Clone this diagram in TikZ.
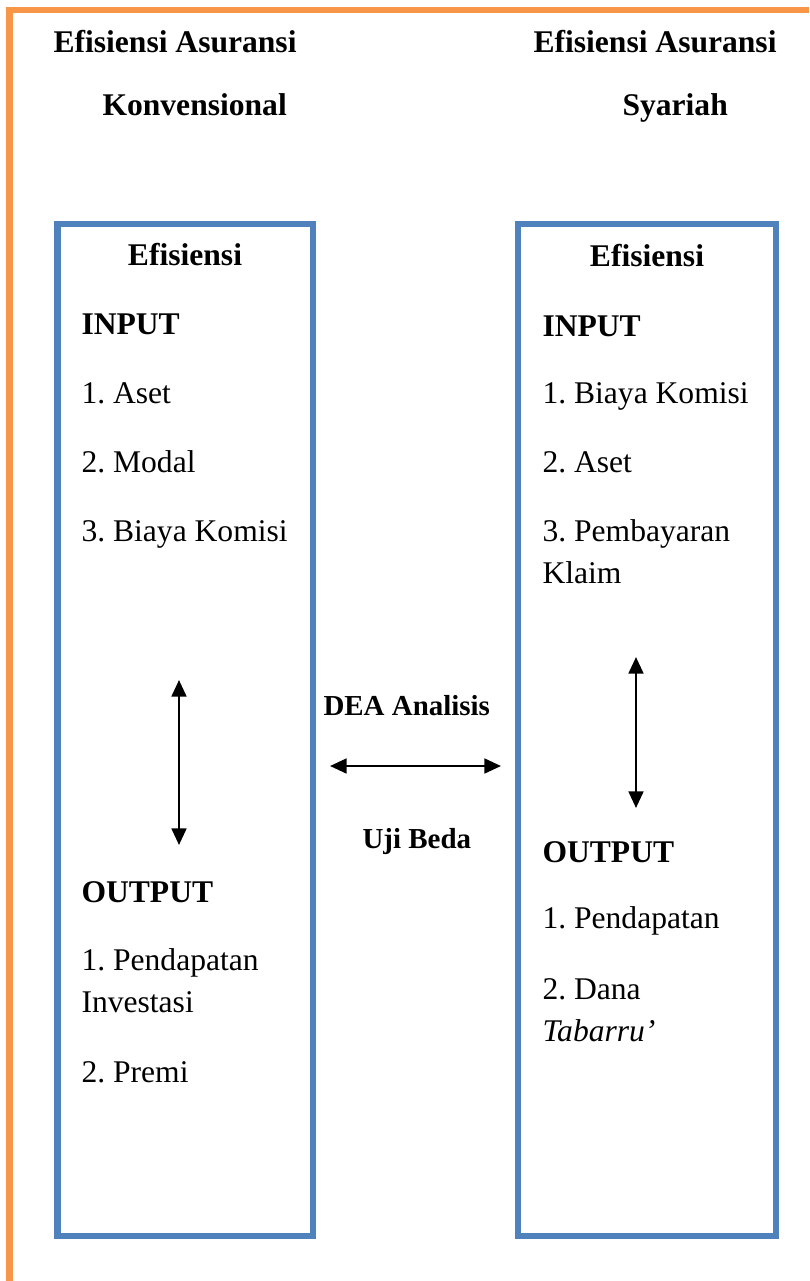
\documentclass[tikz,border=0pt]{standalone}
\usepackage{fontspec}
\setmainfont{Liberation Serif}
\usepackage{tikz}
\usetikzlibrary{arrows.meta}
\definecolor{frameorange}{HTML}{F79646}
\definecolor{boxblue}{HTML}{4F81BD}
\frenchspacing

\begin{document}
\begin{tikzpicture}[x=0.38pt, y=-0.38pt,
    txt/.style={anchor=base west, inner sep=0pt, font=\fontsize{12}{14}\selectfont},
    hd/.style={txt, font=\fontsize{12}{14}\selectfont\bfseries},
    lbl/.style={anchor=base west, inner sep=0pt, font=\fontsize{11}{13}\selectfont\bfseries},
    dbl/.style={{Triangle[length=6.3pt,width=5.6pt]}-{Triangle[length=6.3pt,width=5.6pt]}, line width=0.95pt}]
    \useasboundingbox (0,0) rectangle (809,1281);

    % frame
    \draw[frameorange, line width=2.3pt] (9.5,1281) -- (9.5,10) -- (809,10);

    % titles
    \node[hd] (tk1) at (53, 52) {Efisiensi Asuransi};
    \node[hd] (tk2) at (102, 115) {Konvensional};
    \node[hd] (ts1) at (533, 52) {Efisiensi Asuransi};
    \node[hd] (ts2) at (622, 115) {Syariah};

    % boxes
    \draw[boxblue, line width=2.6pt] (57.5,224) rectangle (313,1236);
    \draw[boxblue, line width=2.6pt] (518,224) rectangle (776,1236);

    % konvensional
    \node[hd, anchor=base] (ke) at (185, 265) {Efisiensi};
    \node[hd] (kin) at (81, 334) {INPUT};
    \foreach \t [count=\i] in {Aset, Modal, Biaya Komisi} {
        \node[txt] (ki\i) at (81, 403+69*\i-69) {\i. \t};
    }
    \node[hd] (kout) at (81, 902) {OUTPUT};
    \node[txt] (ko1) at (81, 970) {1. Pendapatan};
    \node[txt] (ko1b) at (81, 1012) {Investasi};
    \node[txt] (ko2) at (81, 1082) {2. Premi};

    % syariah
    \node[hd, anchor=base] (se) at (647, 266) {Efisiensi};
    \node[hd] (sin) at (542, 336) {INPUT};
    \foreach \t [count=\i] in {Biaya Komisi, Aset, Pembayaran} {
        \node[txt] (si\i) at (542, 403+69*\i-69) {\i. \t};
    }
    \node[txt] (si3b) at (542, 583) {Klaim};
    \node[hd] (sout) at (542, 862) {OUTPUT};
    \node[txt] (so1) at (542, 928) {1. Pendapatan};
    \node[txt] (so2) at (542, 999) {2. Dana};
    \node[txt] (so2b) at (542, 1041) {\itshape Tabarru’};

    % middle
    \node[lbl] (dea) at (323, 715) {DEA Analisis};
    \node[lbl] (uji) at (362, 848) {Uji Beda};

    % arrows
    \coordinate (ka) at (179, 680);
    \coordinate (kb) at (179, 845);
    \coordinate (sa) at (636, 657);
    \coordinate (sb) at (636, 808);
    \coordinate (ma) at (330, 766);
    \coordinate (mb) at (501, 766);
    \draw[dbl] (ka) -- (kb);
    \draw[dbl] (sa) -- (sb);
    \draw[dbl] (ma) -- (mb);
\end{tikzpicture}
\end{document}
